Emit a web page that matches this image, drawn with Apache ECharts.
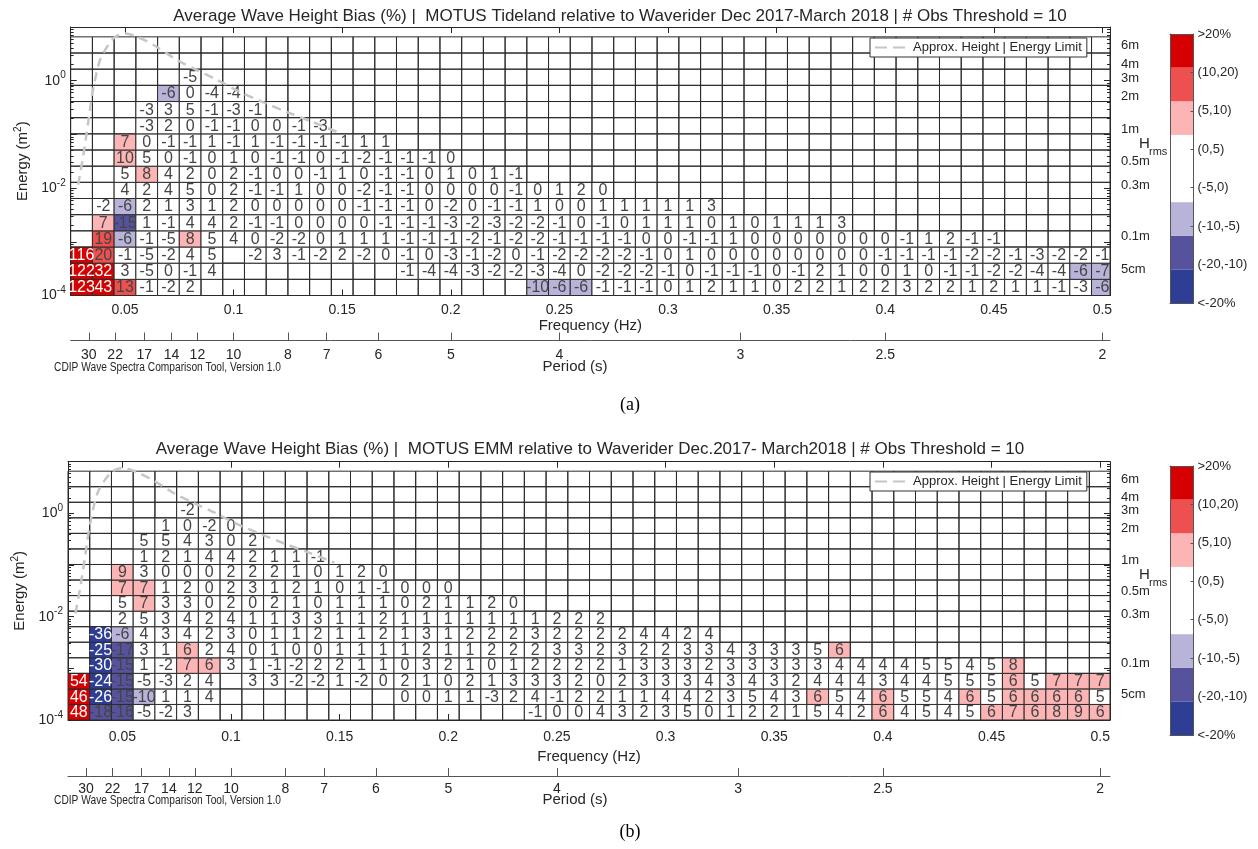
<!DOCTYPE html>
<html><head><meta charset="utf-8"><title>Average Wave Height Bias</title>
<script src="https://cdn.jsdelivr.net/npm/echarts@6.0.0/dist/echarts.min.js"></script>
<style>html,body{margin:0;padding:0;background:#fff;}#chart{width:1258px;height:849px;}</style>
</head><body><div id="chart"></div>
<script>
const _ = null;
// frequency bin centres (Hz), 0.01 Hz wide bins
const freqCenters = [0.03,0.04,0.05,0.06,0.07,0.08,0.09,0.10,0.11,0.12,0.13,0.14,0.15,0.16,0.17,0.18,0.19,0.20,0.21,0.22,0.23,0.24,0.25,0.26,0.27,0.28,0.29,0.30,0.31,0.32,0.33,0.34,0.35,0.36,0.37,0.38,0.39,0.40,0.41,0.42,0.43,0.44,0.45,0.46,0.47,0.48,0.49,0.50];
// energy bin edges (m^2), row 0 at the bottom
const energyEdges = [0.0001,0.0002,0.0004,0.0008,0.0016,0.0032,0.0064,0.0128,0.0256,0.0512,0.1024,0.2048,0.4096,0.8192,1.6384,3.2768,6.5536];
// bias rows (bottom row first): [startColumn, [values...]] segments
const tidelandBias = [
  [[0,[123,43,13,-1,-2,2]],[21,[-10,-6,-6,-1,-1,-1,0,1,2,1,1,0,2,2,1,2,2,3,2,2,1,2,1,1,-1,-3,-6]]],
  [[0,[122,32,3,-5,0,-1,4]],[15,[-1,-4,-4,-3,-2,-2,-3,-4,0,-2,-2,-2,-1,0,-1,-1,-1,0,-1,2,1,0,0,1,0,-1,-1,-2,-2,-4,-4,-6,-7]]],
  [[0,[116,20,-1,-5,-2,4,5,_,-2,3,-1,-2,2,-2,0,-1,0,-3,-1,-2,0,-1,-2,-2,-2,-2,-1,0,1,0,0,0,0,0,0,0,0,-1,-1,-1,-1,-2,-2,-1,-3,-2,-2,-1]]],
  [[1,[19,-6,-1,-5,8,5,4,0,-2,-2,0,1,1,1,-1,-1,-1,-2,-1,-2,-2,-1,-1,-1,-1,0,0,-1,-1,1,0,0,0,0,0,0,0,-1,1,2,-1,-1]]],
  [[1,[7,-15,1,-1,4,4,2,-1,-1,0,0,0,0,-1,-1,-1,-3,-2,-3,-2,-2,-1,0,-1,0,1,1,1,0,1,0,1,1,1,3]]],
  [[1,[-2,-6,2,1,3,1,2,0,0,0,0,0,-1,-1,-1,0,-2,0,-1,-1,1,0,0,1,1,1,1,1,3]]],
  [[2,[4,2,4,5,0,2,-1,-1,1,0,0,-2,-1,-1,0,0,0,0,-1,0,1,2,0]]],
  [[2,[5,8,4,2,0,2,-1,0,0,-1,1,0,-1,-1,0,1,0,1,-1]]],
  [[2,[10,5,0,-1,0,1,0,-1,-1,0,-1,-2,-1,-1,-1,0]]],
  [[2,[7,0,-1,-1,1,-1,1,-1,-1,-1,-1,1,1]]],
  [[3,[-3,2,0,-1,-1,0,0,-1,-3]]],
  [[3,[-3,3,5,-1,-3,-1]]],
  [[4,[-6,0,-4,-4]]],
  [[5,[-5]]],
  [],
  []
];
const emmBias = [
  [[0,[48,-18,-16,-5,-2,3]],[21,[-1,0,0,4,3,2,3,5,0,1,2,2,1,5,4,2,6,4,5,4,5,6,7,6,8,9,6]]],
  [[0,[46,-26,-15,-10,1,1,4]],[15,[0,0,1,1,-3,2,4,-1,2,2,1,1,4,4,2,3,5,4,3,6,5,4,6,5,5,4,6,5,6,6,6,6,5]]],
  [[0,[54,-24,-15,-5,-3,2,4,_,3,3,-2,-2,1,-2,0,2,1,0,2,1,3,3,3,2,0,2,3,3,3,4,3,4,3,2,4,4,4,3,4,4,5,5,5,6,5,7,7,7]]],
  [[1,[-30,-15,1,-2,7,6,3,1,-1,-2,2,2,1,1,0,3,2,1,0,1,2,2,2,2,1,3,3,3,2,3,3,3,3,3,4,4,4,4,5,5,4,5,8]]],
  [[1,[-25,-17,3,1,6,2,4,0,1,0,0,1,1,1,1,2,1,1,2,2,2,3,3,2,3,2,2,3,3,4,3,3,3,5,6]]],
  [[1,[-36,-6,4,3,4,2,3,0,1,1,2,1,1,2,1,3,1,2,2,2,3,2,2,2,2,4,4,2,4]]],
  [[2,[2,5,3,4,2,4,1,1,3,3,1,1,2,1,1,1,1,1,1,1,2,2,2]]],
  [[2,[5,7,3,3,0,2,0,2,1,0,1,1,1,0,2,1,1,2,0]]],
  [[2,[7,7,1,2,0,2,3,1,2,1,0,1,-1,0,0,0]]],
  [[2,[9,3,0,0,0,2,2,2,1,0,1,2,0]]],
  [[3,[1,2,1,4,4,2,1,1,-1]]],
  [[3,[5,5,4,3,0,2]]],
  [[4,[1,0,-2,0]]],
  [[5,[-2]]],
  [],
  []
];
// approximate height | energy limit curve
const limitFreq   = [0.0284,0.0307,0.0330,0.0353,0.0385,0.0417,0.0454,0.0500,0.0569,0.0647,0.0739,0.0831,0.0924,0.1029,0.1135,0.1246,0.1365,0.1476];
const limitEnergy = [0.0115,0.038,0.162,0.676,2.43,4.25,6.5,7.6,6.24,4.25,2.43,1.58,1.03,0.616,0.40,0.26,0.17,0.111];
// tick labels
const freqTickValues = [0.05,0.1,0.15,0.2,0.25,0.3,0.35,0.4,0.45,0.5];
const periodTicks = [30,22,17,14,12,10,8,7,6,5,4,3,2.5,2];
const energyLabelExps = [-4,-2,0];
const hrmsHeights = [6,5,4,3,2,1,0.5,0.3,0.1,0.05];
const hrmsLabels = ['6m','5m','4m','3m','2m','1m','0.5m','0.3m','0.1m','5cm'];
const classLabels = ['<-20%','(-20,-10)','(-10,-5)','(-5,0)','(0,5)','(5,10)','(10,20)','>20%'];
const classColors = ['#2e3e94','#57529e','#b8b3d8','#ffffff','#ffffff','#fcb4b4','#ee4f4f','#d70000'];

const NAME = 'Approx. Height | Energy Limit';
const FONT = '"Liberation Sans", Arial, Helvetica, sans-serif';
const TXT = '#262626';
const AX = '#262626';
const BIN_HALF = 0.005;

function expand(rows) {
  return rows.map(segs => {
    const arr = new Array(freqCenters.length).fill(null);
    segs.forEach(([s, vals]) => vals.forEach((v, k) => { arr[s + k] = v; }));
    return arr;
  });
}
function classOf(v) {
  if (v > 20) return 7; if (v > 10) return 6; if (v > 5) return 5;
  if (v >= 0) return 4; if (v >= -5) return 3; if (v >= -10) return 2;
  if (v >= -20) return 1; return 0;
}
const lg = Math.log10;
const decadeTicks = [-4,-3,-2,-1,0,1];
const minorTicks = [];
for (let n = -4; n <= 0; n++) for (let k = 2; k <= 9; k++) minorTicks.push(lg(k * Math.pow(10, n)));
const hrmsLogs = hrmsHeights.map(h => lg(h * h / 8));
const periodFreqs = periodTicks.map(t => 1 / t);

const panels = [
  { bias: expand(tidelandBias), title: 'Average Wave Height Bias (%) |  MOTUS Tideland relative to Waverider Dec 2017-March 2018 | # Obs Threshold = 10',
    titleX: 620, titleY: 16, grid: {left: 70.7, top: 27, width: 1039.3, height: 268.5}, xMax: 0.5035,
    labelMargin: 8, freqNameGap: 19, periodOffset: 45, periodLabelMargin: 8, periodNameY: 367, cdipY: 368, tag: '(a)', tagY: 405,
    legendTop: 38, cbarTop: 34, hY: 144 },
  { bias: expand(emmBias), title: 'Average Wave Height Bias (%) |  MOTUS EMM relative to Waverider Dec.2017- March2018 | # Obs Threshold = 10',
    titleX: 590, titleY: 449, grid: {left: 68, top: 461.7, width: 1042, height: 258.3}, xMax: 0.5045,
    labelMargin: 10, freqNameGap: 29, periodOffset: 56, periodLabelMargin: 6, periodNameY: 800, cdipY: 801, tag: '(b)', tagY: 832,
    legendTop: 472, cbarTop: 466, hY: 575 }
];

const grid = [], xAxis = [], yAxis = [], series = [], graphic = [], legend = [];
const lineAx = {show: true, onZero: false, lineStyle: {color: AX, width: 1}};
const noLine = {show: false, onZero: false};

panels.forEach((p) => {
  const g = grid.length;
  grid.push({left: p.grid.left, top: p.grid.top, width: p.grid.width, height: p.grid.height, show: false});
  const xb = {type: 'value', gridIndex: g, min: 0.025, max: p.xMax, splitLine: {show: false}, minorTick: {show: false}};
  const xi = xAxis.length;
  xAxis.push(Object.assign({}, xb, {position: 'bottom', axisLine: lineAx,
    axisTick: {show: true, inside: true, length: 6, customValues: freqTickValues, lineStyle: {color: AX}},
    axisLabel: {show: true, customValues: freqTickValues, margin: p.labelMargin, fontSize: 14, color: TXT, fontFamily: FONT,
      formatter: v => String(+(+v).toFixed(2)), showMinLabel: true, showMaxLabel: true, hideOverlap: false},
    name: 'Frequency (Hz)', nameLocation: 'middle', nameGap: p.freqNameGap, nameTextStyle: {fontSize: 15, color: TXT, fontFamily: FONT}}));
  xAxis.push(Object.assign({}, xb, {position: 'top', axisLine: lineAx,
    axisTick: {show: true, inside: true, length: 6, customValues: freqTickValues, lineStyle: {color: AX}}, axisLabel: {show: false}}));
  xAxis.push(Object.assign({}, xb, {position: 'bottom', offset: p.periodOffset, axisLine: {show: true, onZero: false, lineStyle: {color: '#555', width: 1}},
    axisTick: {show: true, inside: true, length: 8, customValues: periodFreqs, lineStyle: {color: '#555'}},
    axisLabel: {show: true, customValues: periodFreqs, margin: p.periodLabelMargin, fontSize: 14, color: TXT, fontFamily: FONT,
      formatter: v => String(Math.round(10 / v) / 10), showMinLabel: true, showMaxLabel: true, hideOverlap: false}}));

  const yb = {type: 'value', gridIndex: g, min: -4, max: 1, splitLine: {show: false}, minorTick: {show: false}};
  const yi = yAxis.length;
  yAxis.push(Object.assign({}, yb, {position: 'left', axisLine: lineAx,
    axisTick: {show: true, inside: true, length: 6, customValues: decadeTicks, lineStyle: {color: AX}},
    axisLabel: {show: true, customValues: energyLabelExps, margin: 5, color: TXT, fontFamily: FONT,
      formatter: v => '{b|10}{s|' + Math.round(v) + '}', showMinLabel: true, showMaxLabel: true, hideOverlap: false,
      rich: {b: {fontSize: 14, color: TXT, fontFamily: FONT}, s: {fontSize: 10, color: TXT, fontFamily: FONT, padding: [0, 0, 10, 0]}}},
    name: 'Energy (m{s|2})', nameLocation: 'middle', nameGap: 37,
    nameTextStyle: {fontSize: 15, color: TXT, fontFamily: FONT, rich: {s: {fontSize: 10, color: TXT, fontFamily: FONT, padding: [0, 0, 9, 0]}}}}));
  yAxis.push(Object.assign({}, yb, {position: 'left', axisLine: noLine,
    axisTick: {show: true, inside: true, length: 3, customValues: minorTicks, lineStyle: {color: AX}}, axisLabel: {show: false}}));
  yAxis.push(Object.assign({}, yb, {position: 'right', axisLine: lineAx,
    axisTick: {show: true, inside: true, length: 6, customValues: decadeTicks, lineStyle: {color: AX}},
    axisLabel: {show: true, customValues: hrmsLogs, margin: 11, fontSize: 13, color: TXT, fontFamily: FONT, showMinLabel: true, showMaxLabel: true, hideOverlap: false,
      formatter: v => { const k = hrmsLogs.findIndex(h => Math.abs(h - v) < 1e-6); return k >= 0 ? hrmsLabels[k] : ''; }}}));
  yAxis.push(Object.assign({}, yb, {position: 'right', axisLine: noLine,
    axisTick: {show: true, inside: true, length: 3, customValues: minorTicks, lineStyle: {color: AX}}, axisLabel: {show: false}}));

  // cells
  const cellData = [], textData = [];
  for (let r = 0; r < energyEdges.length - 1; r++) {
    const yc = (lg(energyEdges[r]) + lg(energyEdges[r + 1])) / 2;
    for (let c = 0; c < freqCenters.length; c++) {
      cellData.push([freqCenters[c], yc, c, r]);
      const v = p.bias[r][c];
      if (v !== null && v !== undefined) textData.push([freqCenters[c], yc, v, classOf(v)]);
    }
  }
  const bias = p.bias;
  series.push({type: 'custom', xAxisIndex: xi, yAxisIndex: yi, silent: true, z: 2, data: cellData, encode: {x: 0, y: 1},
    renderItem: (params, api) => {
      const c = api.value(2), r = api.value(3);
      const v = bias[r][c];
      const a = api.coord([freqCenters[c] - BIN_HALF, lg(energyEdges[r + 1])]);
      const b = api.coord([freqCenters[c] + BIN_HALF, lg(energyEdges[r])]);
      const cs = params.coordSys;
      const rect = echarts.graphic.clipRectByRect({x: a[0], y: a[1], width: b[0] - a[0], height: b[1] - a[1]},
        {x: cs.x, y: cs.y, width: cs.width, height: cs.height});
      if (!rect) return null;
      return {type: 'rect', shape: rect, style: {fill: v === null ? 'none' : classColors[classOf(v)], stroke: '#2b2b2b', lineWidth: 1}};
    }});
  series.push({type: 'custom', xAxisIndex: xi, yAxisIndex: yi, silent: true, z: 3, data: textData, encode: {x: 0, y: 1},
    renderItem: (params, api) => {
      const pt = api.coord([api.value(0), api.value(1)]);
      const cls = api.value(3);
      return {type: 'text', x: pt[0], y: pt[1] + 0.5, style: {text: String(api.value(2)), fill: (cls === 0 || cls === 7) ? '#ffffff' : '#454545',
        fontSize: 16, fontFamily: FONT, align: 'center', verticalAlign: 'middle'}};
    }});
  series.push({type: 'line', name: NAME, xAxisIndex: xi, yAxisIndex: yi, z: 4, silent: true, symbol: 'none', showSymbol: false,
    smooth: 0.3, data: limitFreq.map((f, k) => [f, lg(limitEnergy[k])]),
    lineStyle: {color: '#c6c6c6', width: 2.5, type: [9, 6]}, itemStyle: {color: '#c6c6c6'}});

  legend.push({data: [{name: NAME, icon: 'path://M0,6h12v2h-12z M18,6h12v2h-12z'}], left: 870, top: p.legendTop, orient: 'horizontal', padding: [3, 5, 3, 5], itemWidth: 30, itemHeight: 14,
    backgroundColor: '#ffffff', borderColor: '#333', borderWidth: 1, borderRadius: 0, selectedMode: false, z: 10,
    itemStyle: {color: '#c6c6c6'},
    textStyle: {fontSize: 13, color: TXT, fontFamily: FONT, padding: [0, 0, 0, 3]}});

  // colour bar
  const gi = grid.length;
  grid.push({left: 1170, top: p.cbarTop, width: 23.5, height: 269, show: false});
  const cbLine = {show: true, onZero: false, lineStyle: {color: '#555'}};
  const cbx = xAxis.length;
  xAxis.push({type: 'value', gridIndex: gi, min: 0, max: 1, position: 'bottom', z: 5, axisLine: cbLine, axisTick: {show: false}, axisLabel: {show: false}, splitLine: {show: false}});
  xAxis.push({type: 'value', gridIndex: gi, min: 0, max: 1, position: 'top', z: 5, axisLine: cbLine, axisTick: {show: false}, axisLabel: {show: false}, splitLine: {show: false}});
  const cby = yAxis.length;
  yAxis.push({type: 'value', gridIndex: gi, min: 0, max: classLabels.length, position: 'left', z: 5, axisLine: cbLine, axisTick: {show: false}, axisLabel: {show: false}, splitLine: {show: false}});
  yAxis.push({type: 'value', gridIndex: gi, min: 0, max: classLabels.length - 1, position: 'right', z: 5, axisLine: cbLine,
    axisTick: {show: true, inside: true, length: 3, customValues: [1, 2, 3, 4, 5, 6], lineStyle: {color: '#555'}},
    axisLabel: {show: true, customValues: [0, 1, 2, 3, 4, 5, 6, 7], margin: 4, fontSize: 13, color: TXT, fontFamily: FONT, showMinLabel: true, showMaxLabel: true, hideOverlap: false,
      formatter: v => classLabels[Math.round(v)]}, splitLine: {show: false}});
  series.push({type: 'custom', xAxisIndex: cbx, yAxisIndex: cby, silent: true, z: 2,
    data: classLabels.map((l, k) => [0.5, k + 0.5, k]), encode: {x: 0, y: 1},
    renderItem: (params, api) => {
      const k = api.value(2);
      const a = api.coord([0, k + 1]), b = api.coord([1, k]);
      return {type: 'rect', shape: {x: a[0], y: a[1], width: b[0] - a[0], height: b[1] - a[1]}, style: {fill: classColors[k], stroke: null}};
    }});

  // texts
  graphic.push({type: 'text', x: p.titleX, y: p.titleY, style: {text: p.title, fontSize: 17, fontFamily: FONT, fill: TXT, align: 'center', verticalAlign: 'middle'}});
  graphic.push({type: 'text', x: 575, y: p.periodNameY, style: {text: 'Period (s)', fontSize: 15, fontFamily: FONT, fill: TXT, align: 'center', verticalAlign: 'middle'}});
  graphic.push({type: 'text', x: 47, y: p.cdipY, scaleX: 0.85, originX: 47, style: {text: 'CDIP Wave Spectra Comparison Tool, Version 1.0', fontSize: 12, fontFamily: FONT, fill: TXT, align: 'left', verticalAlign: 'middle'}});
  graphic.push({type: 'text', x: 630, y: p.tagY, style: {text: p.tag, fontSize: 18, fontFamily: '"Liberation Serif", "Times New Roman", serif', fill: '#000', align: 'center', verticalAlign: 'middle'}});
  graphic.push({type: 'text', x: 1139, y: p.hY, style: {text: 'H', fontSize: 15, fontFamily: FONT, fill: TXT, align: 'left', verticalAlign: 'middle'}});
  graphic.push({type: 'text', x: 1149, y: p.hY + 8, style: {text: 'rms', fontSize: 11, fontFamily: FONT, fill: TXT, align: 'left', verticalAlign: 'middle'}});
});

const chart = echarts.init(document.getElementById('chart'), null, {renderer: 'canvas'});
chart.setOption({
  animation: false,
  backgroundColor: '#ffffff',
  textStyle: {fontFamily: FONT},
  grid, xAxis, yAxis, series, legend, graphic,
  tooltip: {show: false}
});
</script></body></html>
